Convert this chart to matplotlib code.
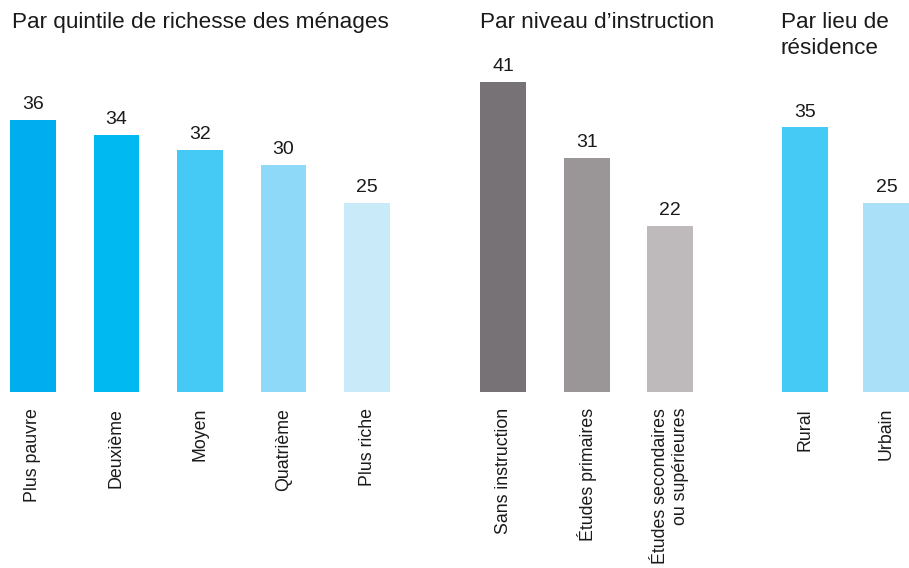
import matplotlib
matplotlib.use("Agg")
import matplotlib.pyplot as plt

plt.rcParams['font.family'] = ['Liberation Sans', 'DejaVu Sans']

# DATA
richesse_labels = ["Plus pauvre", "Deuxième", "Moyen", "Quatrième", "Plus riche"]
richesse_values = [36, 34, 32, 30, 25]
instruction_labels = ["Sans instruction", "Études primaires", "Études secondaires\nou supérieures"]
instruction_values = [41, 31, 22]
residence_labels = ["Rural", "Urbain"]
residence_values = [35, 25]

titles = ["Par quintile de richesse des ménages", "Par niveau d\u2019instruction", "Par lieu de\nrésidence"]

# STYLE
richesse_colors = ["#00ADEE", "#00B9F1", "#45CAF6", "#8FD9F8", "#C8EAF9"]
instruction_colors = ["#777275", "#9A9597", "#BEBABB"]
residence_colors = ["#45CAF6", "#ABE0F9"]

# x positions of bars (layout)
pos_richesse = [0, 1, 2, 3, 4]
pos_instruction = [5.63, 6.63, 7.63]
pos_residence = [9.25, 10.22]

fig = plt.figure(figsize=(9.09, 5.68), dpi=100)
ax = fig.add_axes([0, 176 / 568, 1, 392 / 568])
ax.set_xlim(-0.395, 10.49)
ax.set_ylim(0, 392 / 7.56)
ax.axis("off")

groups = [
    (pos_richesse, richesse_values, richesse_labels, richesse_colors),
    (pos_instruction, instruction_values, instruction_labels, instruction_colors),
    (pos_residence, residence_values, residence_labels, residence_colors),
]

for pos, vals, labs, cols in groups:
    ax.bar(pos, vals, width=0.55, color=cols)
    for x, v, lab in zip(pos, vals, labs):
        ax.text(x, v + 0.9, str(v), ha="center", va="bottom", fontsize=14, color="#1a1a1a")
        ax.text(x, -2.1, lab, rotation=90, ha="center", va="top", multialignment="right",
                fontsize=12.8, color="#1a1a1a", clip_on=False, linespacing=1.25)

# group titles
title_x = [12, 480, 781]
for tx, t in zip(title_x, titles):
    fig.text(tx / 909, 1 - 12 / 568, t, ha="left", va="top", fontsize=16.2, color="#1a1a1a",
             linespacing=1.3)

fig.savefig("out.png", dpi=100)
